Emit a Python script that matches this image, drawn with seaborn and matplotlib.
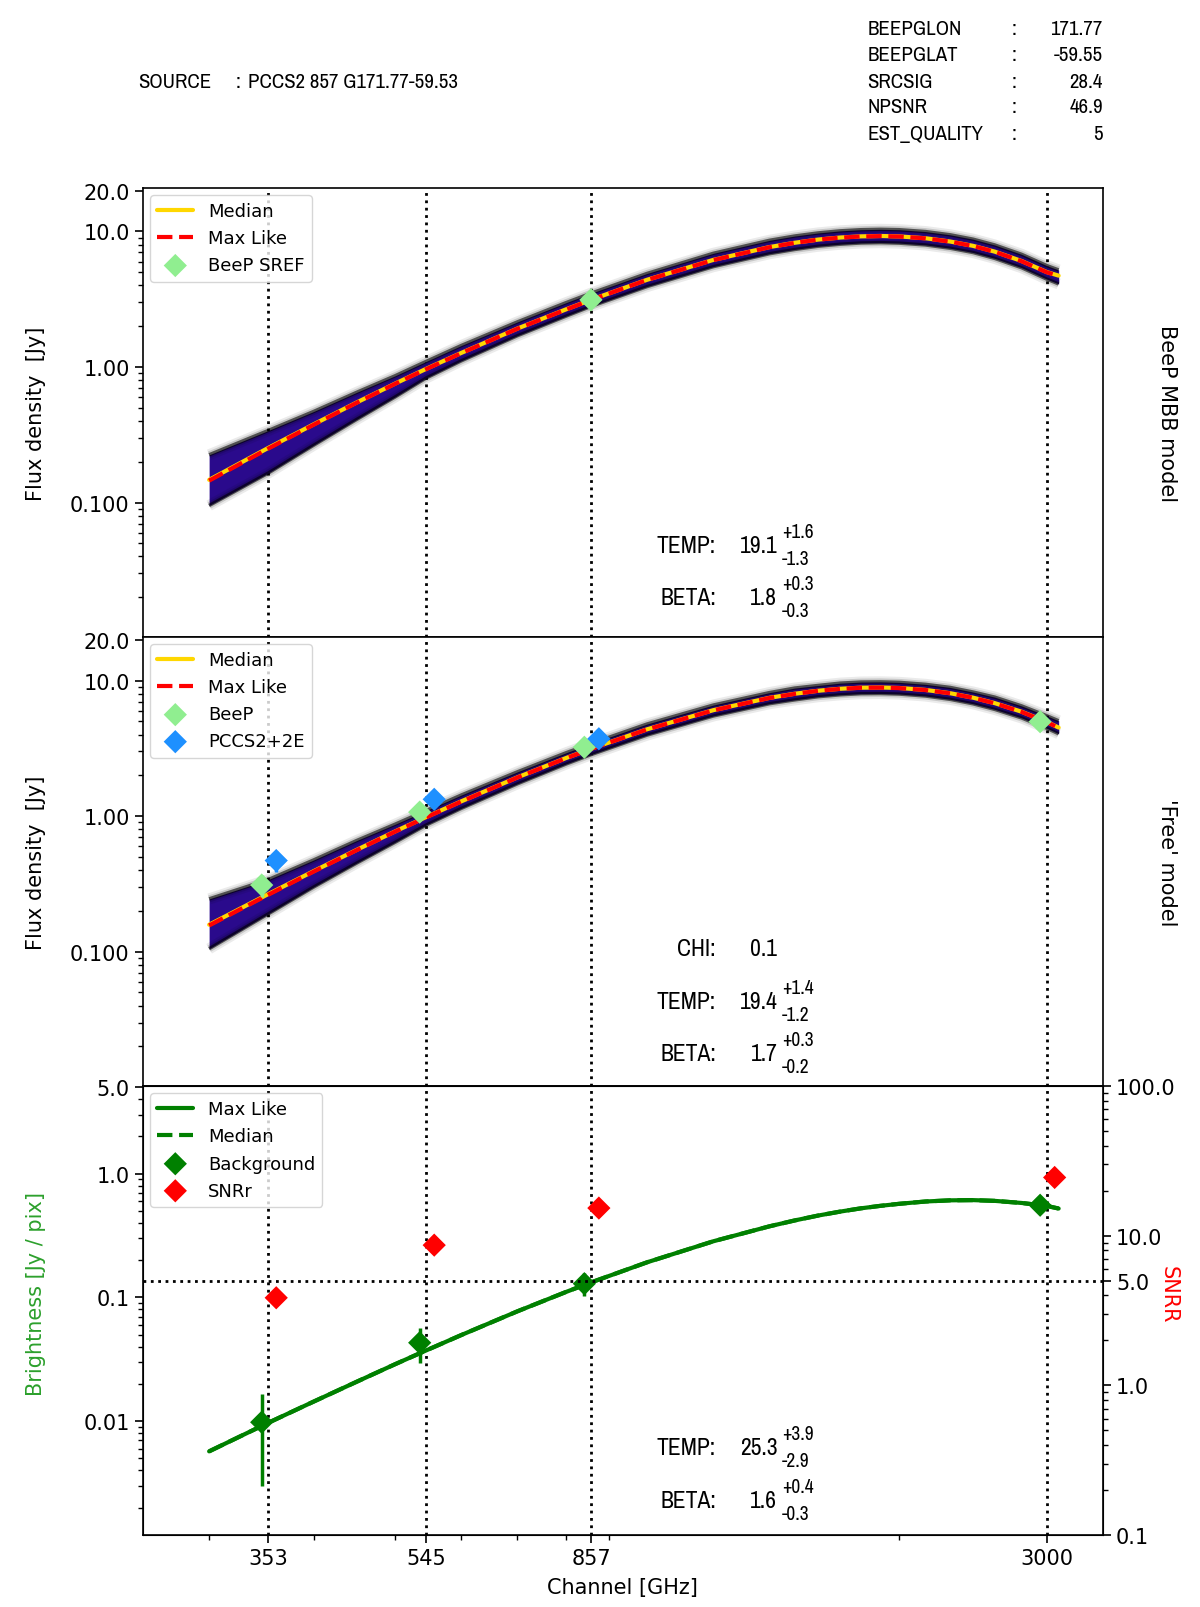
import matplotlib
matplotlib.use("Agg")
import matplotlib.pyplot as plt
import seaborn as sns
from matplotlib.ticker import NullFormatter

# ---- header info ----
source_name = "PCCS2 857 G171.77-59.53"
info_keys = ["BEEPGLON", "BEEPGLAT", "SRCSIG", "NPSNR", "EST_QUALITY"]
info_vals = ["171.77", "-59.55", "28.4", "46.9", "5"]

# ---- channels ----
channels = [353, 545, 857, 3000]
channel_labels = ["353", "545", "857", "3000"]

# ---- model grid (GHz) ----
freq = [300, 353, 400, 450, 500, 545, 600, 700, 800, 857,
        1000, 1200, 1400, 1500, 1600, 1700, 1800, 1900, 2000, 2150,
        2300, 2450, 2600, 2800, 3000, 3100]

# BeeP MBB model (top)
top_median = [0.147, 0.253, 0.378, 0.547, 0.753, 0.97, 1.27, 1.92, 2.66, 3.13,
              4.40, 6.17, 7.67, 8.25, 8.71, 9.02, 9.20, 9.26, 9.19, 8.91,
              8.43, 7.83, 7.10, 6.05, 5.02, 4.72]
top_maxlike = [0.145, 0.250, 0.375, 0.544, 0.750, 0.965, 1.265, 1.915, 2.65, 3.12,
               4.39, 6.15, 7.65, 8.23, 8.70, 9.00, 9.18, 9.24, 9.17, 8.89,
               8.41, 7.81, 7.08, 6.03, 5.00, 4.70]
top_band_hi = [0.225, 0.34, 0.47, 0.65, 0.86, 1.10, 1.44, 2.15, 2.98, 3.50,
               4.90, 6.90, 8.60, 9.25, 9.75, 10.1, 10.3, 10.37, 10.3, 9.98,
               9.45, 8.77, 7.95, 6.78, 5.60, 5.20]
top_band_lo = [0.095, 0.165, 0.265, 0.41, 0.60, 0.83, 1.11, 1.70, 2.37, 2.80,
               3.92, 5.50, 6.85, 7.36, 7.78, 8.05, 8.22, 8.27, 8.20, 7.95,
               7.52, 6.99, 6.33, 5.40, 4.45, 4.10]
sref_freq = [857]
sref_flux = [3.13]

# 'Free' model (middle)
mid_median = [0.158, 0.266, 0.393, 0.563, 0.77, 0.985, 1.285, 1.93, 2.68, 3.14,
              4.37, 6.05, 7.46, 7.99, 8.41, 8.70, 8.86, 8.89, 8.82, 8.53,
              8.07, 7.48, 6.82, 5.89, 4.96, 4.50]
mid_maxlike = [0.156, 0.263, 0.390, 0.560, 0.767, 0.98, 1.28, 1.925, 2.67, 3.13,
               4.36, 6.03, 7.44, 7.97, 8.40, 8.68, 8.85, 8.87, 8.80, 8.51,
               8.05, 7.46, 6.80, 5.87, 4.94, 4.48]
mid_band_hi = [0.245, 0.34, 0.475, 0.66, 0.87, 1.10, 1.43, 2.12, 2.93, 3.43,
               4.78, 6.60, 8.15, 8.80, 9.20, 9.57, 9.75, 9.78, 9.70, 9.38,
               8.90, 8.23, 7.55, 6.50, 5.50, 5.05]
mid_band_lo = [0.105, 0.19, 0.30, 0.45, 0.64, 0.86, 1.14, 1.73, 2.42, 2.84,
               3.96, 5.48, 6.75, 7.20, 7.60, 7.85, 8.00, 8.02, 7.95, 7.69,
               7.27, 6.74, 6.13, 5.30, 4.45, 4.05]
beep_flux = [0.31, 1.07, 3.22, 4.97]
beep_err = [0.055, 0.06, 0.12, 0.2]
pccs_flux = [0.47, 1.33, 3.72]
pccs_err = [0.085, 0.08, 0.12]

# background (bottom)
bg_maxlike = [0.0057, 0.0097, 0.0144, 0.0208, 0.0288, 0.0373, 0.0496, 0.0771, 0.1105, 0.132,
              0.192, 0.284, 0.375, 0.418, 0.458, 0.493, 0.524, 0.549, 0.570, 0.595,
              0.608, 0.6105, 0.602, 0.579, 0.548, 0.522]
bg_median = bg_maxlike
bg_flux = [0.0098, 0.043, 0.129, 0.555]
bg_err = [0.0068, 0.0135, 0.027, 0.05]
snr_vals = [3.85, 8.65, 15.3, 24.5]

fit_text = {
    "top": [("TEMP:", "19.1", "+1.6", "-1.3"), ("BETA:", "1.8", "+0.3", "-0.3")],
    "mid": [("TEMP:", "19.4", "+1.4", "-1.2"), ("BETA:", "1.7", "+0.3", "-0.2")],
    "bot": [("TEMP:", "25.3", "+3.9", "-2.9"), ("BETA:", "1.6", "+0.4", "-0.3")],
}
chi_val = "0.1"

# ---- style ----
sns.set_style("ticks", rc={"axes.edgecolor": "black", "xtick.color": "black",
                           "ytick.color": "black", "text.color": "black",
                           "axes.labelcolor": "black"})
plt.rcParams["font.family"] = ["DejaVu Sans"]
narrow = ["Archivo Narrow", "DejaVu Sans"]
INDIGO = "#2a0a8c"
LEFT_SHIFT, RIGHT_SHIFT = 0.982, 1.022
MS = 140

fig, (ax1, ax2, ax3) = plt.subplots(3, 1, figsize=(12, 16.08), dpi=100, sharex=True)
fig.subplots_adjust(left=0.119, right=0.919, top=0.8826, bottom=0.0447, hspace=0)


def draw_band(ax, lo, hi, med, ml):
    ax.fill_between(freq, lo, hi, color=INDIGO, lw=0, zorder=2)
    # soft dark edges, like many overlapping sample curves
    for edge in (lo, hi):
        ax.plot(freq, edge, color="k", lw=8, alpha=0.08, zorder=2.1, solid_capstyle="butt")
        ax.plot(freq, edge, color="k", lw=5, alpha=0.15, zorder=2.1, solid_capstyle="butt")
        ax.plot(freq, edge, color="k", lw=2.5, alpha=0.6, zorder=2.2, solid_capstyle="butt")
    sns.lineplot(x=freq, y=med, ax=ax, color="gold", lw=3, label="Median", zorder=4)
    sns.lineplot(x=freq, y=ml, ax=ax, color="red", lw=3, ls="--", label="Max Like", zorder=5)


def fit_labels(ax, rows, ys):
    for (name, val, up, dn), y in zip(rows, ys):
        ax.text(0.597, y, name, transform=ax.transAxes, ha="right", va="center",
                fontsize=17, family=narrow)
        ax.text(0.661, y, val, transform=ax.transAxes, ha="right", va="center",
                fontsize=17, family=narrow)
        ax.text(0.666, y + 0.031, up, transform=ax.transAxes, ha="left", va="center",
                fontsize=14, family=narrow)
        ax.text(0.666, y - 0.029, dn, transform=ax.transAxes, ha="left", va="center",
                fontsize=14, family=narrow)


def style_axes(ax):
    ax.set_xscale("log")
    ax.set_yscale("log")
    ax.set_xlim(250, 3500)
    for c in channels:
        ax.axvline(c, color="k", ls=":", lw=2, zorder=1)
    ax.tick_params(which="major", length=6, width=1.2, labelsize=15)
    ax.tick_params(which="minor", length=3.5, width=1)
    for s in ax.spines.values():
        s.set_linewidth(1.2)
    ax.yaxis.set_minor_formatter(NullFormatter())
    ax.xaxis.set_minor_formatter(NullFormatter())


# ---- top panel ----
style_axes(ax1)
draw_band(ax1, top_band_lo, top_band_hi, top_median, top_maxlike)
sns.scatterplot(x=sref_freq, y=sref_flux, ax=ax1, marker="D", s=MS, color="lightgreen",
                edgecolor="none", label="BeeP SREF", zorder=6)
ax1.set_ylim(0.0102, 21)

# ---- middle panel ----
style_axes(ax2)
draw_band(ax2, mid_band_lo, mid_band_hi, mid_median, mid_maxlike)
beep_x = [c * LEFT_SHIFT for c in channels]
pccs_x = [c * RIGHT_SHIFT for c in channels[:3]]
ax2.errorbar(beep_x, beep_flux, yerr=beep_err, fmt="none", ecolor="lightgreen", elinewidth=2.5, zorder=5.5)
ax2.errorbar(pccs_x, pccs_flux, yerr=pccs_err, fmt="none", ecolor="dodgerblue", elinewidth=2.5, zorder=5.5)
sns.scatterplot(x=beep_x, y=beep_flux, ax=ax2, marker="D", s=MS, color="lightgreen",
                edgecolor="none", label="BeeP", zorder=6)
sns.scatterplot(x=pccs_x, y=pccs_flux, ax=ax2, marker="D", s=MS, color="dodgerblue",
                edgecolor="none", label="PCCS2+2E", zorder=6)
ax2.set_ylim(0.0102, 21)

for ax in (ax1, ax2):
    ax.set_yticks([0.1, 1, 10, 20], ["0.100", "1.00", "10.0", "20.0"])
    ax.text(-0.111, 0.5, "Flux density  [Jy]", transform=ax.transAxes, rotation=90,
            ha="center", va="center", fontsize=15)
    if ax.get_legend():
        ax.get_legend().remove()
    h, l = ax.get_legend_handles_labels()
    ax.legend(h, l, loc="upper left", fontsize=13, borderaxespad=0.4)
    ax.tick_params(axis="x", which="both", labelbottom=False)

ax1.text(1.067, 0.5, "BeeP MBB model", transform=ax1.transAxes, rotation=270,
         ha="center", va="center", fontsize=15)
ax2.text(1.067, 0.5, "'Free' model", transform=ax2.transAxes, rotation=270,
         ha="center", va="center", fontsize=15)

fit_labels(ax1, fit_text["top"], [0.203, 0.087])
ax2.text(0.597, 0.306, "CHI:", transform=ax2.transAxes, ha="right", va="center",
         fontsize=17, family=narrow)
ax2.text(0.661, 0.306, chi_val, transform=ax2.transAxes, ha="right", va="center",
         fontsize=17, family=narrow)
fit_labels(ax2, fit_text["mid"], [0.189, 0.073])

# ---- bottom panel ----
style_axes(ax3)
sns.lineplot(x=freq, y=bg_maxlike, ax=ax3, color="green", lw=3, label="Max Like", zorder=4)
sns.lineplot(x=freq, y=bg_median, ax=ax3, color="green", lw=3, ls="--", label="Median", zorder=4)
bg_x = [c * LEFT_SHIFT for c in channels]
ax3.errorbar(bg_x, bg_flux, yerr=bg_err, fmt="none", ecolor="green", elinewidth=2.5, zorder=5)
sns.scatterplot(x=bg_x, y=bg_flux, ax=ax3, marker="D", s=MS, color="green",
                edgecolor="none", label="Background", zorder=6)
ax3.set_ylim(0.0012, 5.1)
ax3.set_yticks([0.01, 0.1, 1.0, 5.0], ["0.01", "0.1", "1.0", "5.0"])
ax3.set_xticks(channels, channel_labels)
ax3.set_xlim(250, 3500)
ax3.set_xlabel("Channel [GHz]", fontsize=15, labelpad=6)
ax3.text(-0.111, 0.538, "Brightness [Jy / pix]", transform=ax3.transAxes, rotation=90,
         ha="center", va="center", fontsize=15, color="#2ca02c")

ax3b = ax3.twinx()
ax3b.set_yscale("log")
ax3b.set_ylim(0.1, 100)
snr_x = [c * RIGHT_SHIFT for c in channels]
sns.scatterplot(x=snr_x, y=snr_vals, ax=ax3b, marker="D", s=MS, color="red",
                edgecolor="none", label="SNRr", zorder=6)
ax3b.axhline(5, color="k", ls=":", lw=2, zorder=1)
ax3b.set_yticks([0.1, 1.0, 5.0, 10.0, 100.0], ["0.1", "1.0", "5.0", "10.0", "100.0"])
ax3b.yaxis.set_minor_formatter(NullFormatter())
ax3b.tick_params(which="major", length=6, width=1.2, labelsize=15)
ax3b.tick_params(which="minor", length=3.5, width=1)
ax3b.set_ylabel("")
ax3b.text(1.069, 0.538, "SNRR", transform=ax3b.transAxes, rotation=270,
          ha="center", va="center", fontsize=15, color="red")
fit_labels(ax3, fit_text["bot"], [0.195, 0.078])

for a in (ax3, ax3b):
    if a.get_legend():
        a.get_legend().remove()
h1, l1 = ax3.get_legend_handles_labels()
h2, l2 = ax3b.get_legend_handles_labels()
ax3b.legend(h1 + h2, l1 + l2, loc="upper left", fontsize=13, borderaxespad=0.4)

# ---- header ----
fig.text(0.115, 0.949, "SOURCE", ha="left", va="center", fontsize=15, family=narrow)
fig.text(0.196, 0.949, ":", ha="left", va="center", fontsize=15, family=narrow)
fig.text(0.207, 0.949, source_name, ha="left", va="center", fontsize=15, family=narrow)
row_y = [0.9815, 0.9655, 0.9489, 0.933, 0.9164]
for key, val, y in zip(info_keys, info_vals, row_y):
    fig.text(0.723, y, key, ha="left", va="center", fontsize=15, family=narrow)
    fig.text(0.843, y, ":", ha="left", va="center", fontsize=15, family=narrow)
    fig.text(0.919, y, val, ha="right", va="center", fontsize=15, family=narrow)

fig.savefig("out.png", dpi=100)
